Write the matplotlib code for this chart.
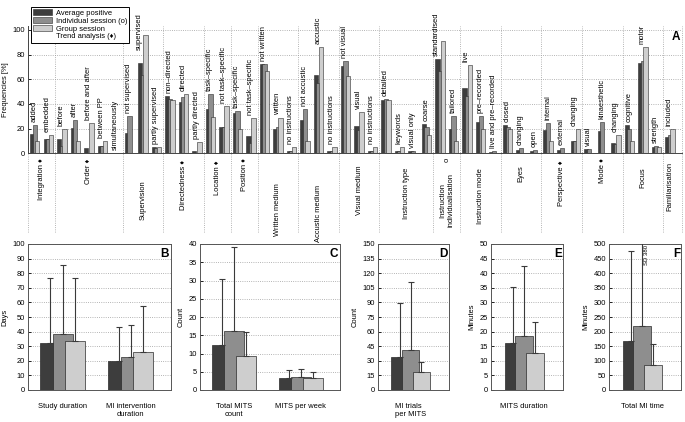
import matplotlib
matplotlib.use('Agg')
import matplotlib.pyplot as plt
from matplotlib.patches import Patch
from matplotlib.transforms import blended_transform_factory
import numpy as np

plt.rcParams['font.family'] = ['Liberation Sans', 'DejaVu Sans']
plt.rcParams['font.size'] = 5.4

# ---- panel A: frequencies per item (average positive / individual / group)
GROUPS = ['Integration', 'Order', 'Supervision', 'Directedness', 'Location', 'Position',
          'Written medium', 'Accustic medium', 'Visual medium', 'Instruction type',
          'Instruction\nindividualisation', 'Instruction mode', 'Eyes', 'Perspective',
          'Mode', 'Focus', 'Familiarisation']
GROUP_MARKS = ['\u2666', '\u2666', '', '\u2666', '\u2666', '\u2666', '', '', '', '',
               'o', '', '', '\u2666', '\u2666', '', '']
GROUP_SIZES = [2, 5, 3, 3, 2, 2, 3, 3, 3, 4, 2, 3, 3, 3, 3, 3, 1]

A_ITEMS = ['added', 'embedded',
           'before', 'after', 'before and after', 'between PP', 'simultaneously',
           'not supervised', 'supervised', 'partly supervised',
           'non\u2013directed', 'directed', 'partly directed',
           'task\u2013specific', 'not task\u2013specific',
           'task\u2013specific', 'not task\u2013specific',
           'not written', 'written', 'no instructions',
           'not accustic', 'accustic', 'no instructions',
           'not visual', 'visual', 'no instructions',
           'detailed', 'keywords', 'visual only', 'coarse',
           'standardised', 'tailored',
           'live', 'pre\u2013recorded', 'live and pre\u2013recorded',
           'closed', 'changing', 'open',
           'internal', 'external', 'changing',
           'visual', 'kinaesthetic', 'changing',
           'cognitive', 'motor', 'strength',
           'included']
A_AVG = [15.7, 11.4, 11.4, 20.5, 4.1, 5.7, 0,
         16.7, 73.0, 5.4, 46.7, 41.3, 1.9, 35.9, 21.0, 33.0, 14.3,
         72.4, 19.7, 1.9, 26.8, 63.8, 1.9, 71.0, 21.9, 1.9,
         43.2, 1.9, 1.9, 23.5, 76.2, 19.7, 53.0, 25.4, 1.1,
         23.0, 2.7, 1.6, 18.9, 2.7, 9.7, 3.5, 18.4, 8.1,
         23.0, 73.5, 5.1, 13.5]
A_IND = [22.7, 11.9, 5.9, 27.0, 0, 6.2, 0,
         30.2, 63.5, 4.6, 44.0, 45.4, 0, 48.0, 21.0, 34.3, 8.6,
         72.4, 21.4, 1.9, 35.7, 56.8, 1.9, 74.9, 18.9, 1.9,
         44.0, 1.9, 1.9, 21.4, 66.8, 30.3, 46.8, 30.3, 1.6,
         21.4, 4.3, 2.7, 24.6, 4.6, 9.7, 3.5, 25.7, 7.3,
         20.0, 74.9, 5.9, 14.6]
A_GRP = [9.7, 14.9, 19.5, 9.7, 24.3, 9.7, 0,
         0, 96.0, 5.4, 43.2, 47.8, 9.4, 29.2, 38.0, 19.5, 28.9,
         67.0, 28.9, 5.1, 9.7, 86.0, 5.1, 62.4, 33.5, 5.1,
         43.2, 5.1, 0, 14.9, 90.8, 10.0, 71.6, 19.5, 0,
         19.5, 0, 0, 10.0, 0, 19.5, 0, 0, 14.9,
         9.7, 86.0, 5.1, 19.5]
SERIES = ['Average positive', 'Individual session (o)', 'Group session', 'Trend analysis (\u2666)']

# ---- panels B-F: means and SDs (rows: average positive, individual, group)
B_LABELS = ['Study duration', 'MI intervention\nduration']
B_MEAN = [[32.3, 20.2], [38.6, 22.3], [33.6, 25.7]]
B_SD = [[44.1, 22.8], [47.1, 22.0], [43.4, 32.0]]

C_LABELS = ['Total MITS\ncount', 'MITS per week']
C_MEAN = [[12.4, 3.2], [16.1, 3.45], [9.4, 3.3]]
C_SD = [[17.9, 2.2], [23.0, 2.25], [6.4, 1.6]]

D_LABELS = ['MI trials\nper MITS']
D_MEAN = [[34.0], [40.9], [18.4]]
D_SD = [[55.7], [69.9], [10.2]]

E_LABELS = ['MITS duration']
E_MEAN = [[16.25], [18.6], [12.8]]
E_SD = [[19.0], [24.0], [10.6]]

F_LABELS = ['Total MI time']
F_MEAN = [[169], [220], [86]]
F_SD = [[308], [380], [71]]

COLORS = ['#3d3d3d', '#8e8e8e', '#cecece']
EDGE = '#2a2a2a'
GRID = dict(color='#9c9c9c', linestyle=':', linewidth=0.6)
W, H = 685, 422

# pixels below the axis where each group label starts
LABEL_DROP = [5, 5, 27, 7, 7, 5, 30, 32, 12, 14, 20, 15, 12, 7, 5, 14, 9]
# the two tallest items have their labels tucked in beside the group-session bar
LABEL_TUCKED = {8: 84, 30: 79}


def px_rect(left, top, right, bottom):
    return [left / W, (H - bottom) / H, (right - left) / W, (bottom - top) / H]


fig = plt.figure(figsize=(W / 100, H / 100), dpi=100)

# ---------------- panel A
ax = fig.add_axes(px_rect(28, 26.3, 682, 153.3))
x = np.arange(len(A_ITEMS))
for k, (vals, off) in enumerate(zip([A_AVG, A_IND, A_GRP], [-0.19, 0.0, 0.19])):
    ax.bar(x + off, vals, width=0.32, color=COLORS[k], edgecolor=EDGE,
           linewidth=0.4, zorder=2 + k)
ax.set_xlim(-0.5, 47.9)
ax.set_ylim(0, 103)
ax.set_yticks(range(0, 101, 20))
ax.set_xticks([])
ax.set_ylabel('Frequencies [%]', labelpad=3)
ax.yaxis.grid(True, **GRID)
ax.set_axisbelow(True)
ax.tick_params(axis='y', direction='in', length=2, width=0.6, pad=2)
for side in ['top', 'right']:
    ax.spines[side].set_visible(False)
for side in ['left', 'bottom']:
    ax.spines[side].set_linewidth(0.7)
    ax.spines[side].set_color('#444')

tops = np.max([A_AVG, A_IND, A_GRP], axis=0)
for i, (xi, top, lab) in enumerate(zip(x, tops, A_ITEMS)):
    if i in LABEL_TUCKED:
        ax.text(xi - 0.3, LABEL_TUCKED[i], lab, rotation=90, ha='center', va='bottom', zorder=6)
    else:
        ax.text(xi - 0.05, top + 2.5, lab, rotation=90, ha='center', va='bottom', zorder=6)

trans = blended_transform_factory(ax.transData, ax.transAxes)
bounds = np.concatenate([[-0.5], np.cumsum(GROUP_SIZES) - 0.5])
bounds[-1] = 47.9
for b in bounds:
    ax.plot([b, b], [-0.62, 1], transform=trans, clip_on=False, zorder=1, **GRID)

starts = np.concatenate([[0], np.cumsum(GROUP_SIZES)[:-1]])
centers = starts + (np.array(GROUP_SIZES) - 1) / 2
for c, name, mark, drop in zip(centers, GROUPS, GROUP_MARKS, LABEL_DROP):
    label = f'{name} {mark}' if mark and '\n' not in name else name
    ax.annotate(label, xy=(c, 0), xycoords=trans, xytext=(0, -drop * 0.72),
                textcoords='offset points', rotation=90, ha='center', va='top',
                multialignment='center')
    if mark and '\n' in name:
        ax.annotate(mark, xy=(c, 0), xycoords=trans, xytext=(0, -4 * 0.72),
                    textcoords='offset points', rotation=90, ha='center', va='top')

handles = [Patch(facecolor=c, edgecolor=EDGE, linewidth=0.4) for c in COLORS]
handles.append(Patch(facecolor='none', edgecolor='none'))
leg = ax.legend(handles, SERIES, loc='upper left', bbox_to_anchor=(0.004, 1.152),
                borderaxespad=0, fancybox=False, edgecolor='black', framealpha=1,
                handlelength=2.6, handleheight=0.75, handletextpad=0.45,
                labelspacing=0.08, borderpad=0.3, fontsize=5.4)
leg.get_frame().set_linewidth(0.7)
leg.set_zorder(10)
ax.text(0.998, 94, 'A', transform=blended_transform_factory(ax.transAxes, ax.transData),
        ha='right', va='center', fontsize=8.5, fontweight='bold')


# ---------------- panels B-F
def bar_panel(rect, labels, means, sds, ymax, step, ylabel, letter, xlim, width, spacing):
    ax = fig.add_axes(rect)
    xs0 = np.arange(len(labels))
    for k, (m, sd) in enumerate(zip(means, sds)):
        xs = xs0 + (k - 1) * spacing
        ax.bar(xs, m, width, color=COLORS[k], edgecolor=EDGE, linewidth=0.5, zorder=2 + k)
        ax.errorbar(xs, m, yerr=[np.zeros(len(m)), sd], fmt='none', ecolor='#3a3a3a',
                    elinewidth=0.8, capsize=2.2, capthick=0.8, zorder=6)
    ax.set_xlim(*xlim)
    ax.set_ylim(0, ymax)
    ax.set_yticks(np.arange(0, ymax + step / 2, step))
    ax.set_xticks(xs0, labels)
    ax.tick_params(axis='x', length=0, pad=9)
    ax.tick_params(axis='y', direction='in', length=2, width=0.6, pad=2)
    ax.set_ylabel(ylabel, labelpad=3)
    ax.yaxis.grid(True, **GRID)
    ax.set_axisbelow(True)
    for sp in ax.spines.values():
        sp.set_linewidth(0.7)
        sp.set_color('#555')
    ax.text(0.985, 0.975, letter, transform=ax.transAxes, ha='right', va='top',
            fontsize=8.5, fontweight='bold')
    return ax


bar_panel(px_rect(28, 244, 171, 390), B_LABELS, B_MEAN, B_SD, 100, 10, 'Days', 'B',
          (-0.51, 1.59), 0.30, 0.18)
bar_panel(px_rect(200, 244, 340, 390), C_LABELS, C_MEAN, C_SD, 40, 5, 'Count', 'C',
          (-0.51, 1.59), 0.30, 0.18)
axd = bar_panel(px_rect(378, 244, 449, 390), D_LABELS, D_MEAN, D_SD, 150, 15, 'Count', 'D',
                (-0.5, 0.59), 0.26, 0.165)
for t in axd.get_xticklabels():
    t.set_multialignment('left')
bar_panel(px_rect(491, 244, 563, 390), E_LABELS, E_MEAN, E_SD, 50, 5, 'Minutes', 'E',
          (-0.5, 0.59), 0.26, 0.165)
axf = bar_panel(px_rect(609, 244, 681, 390), F_LABELS, F_MEAN, F_SD, 500, 50, 'Minutes', 'F',
                (-0.5, 0.59), 0.26, 0.165)
# the individual-session SD runs off the axis, so it is written next to the bar
axf.text(0.065, 497, f'SD {F_SD[1][0]:.0f}', rotation=90, ha='center', va='top', fontsize=4.3)

fig.savefig('out.png', dpi=100)
